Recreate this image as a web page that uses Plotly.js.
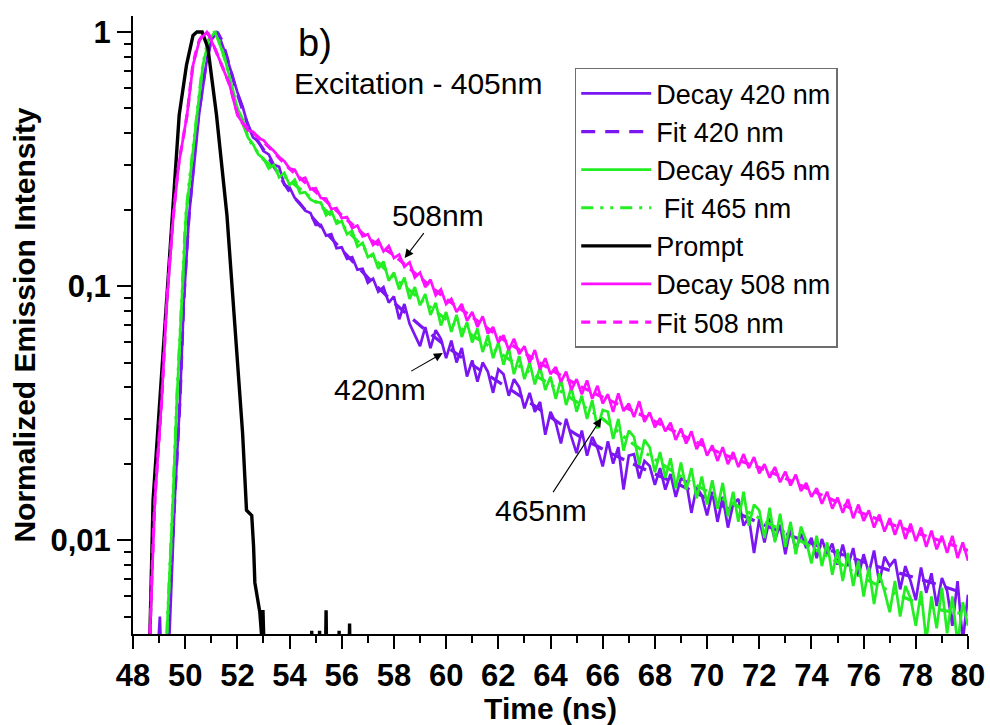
<!DOCTYPE html>
<html>
<head>
<meta charset="utf-8">
<script src="https://cdn.plot.ly/plotly-3.0.1.min.js"></script>
<style>
html,body{margin:0;padding:0;background:#fff;}
#chart{width:990px;height:725px;}
</style>
</head>
<body>
<div id="chart"></div>
<script>
// ---- data ----
const tGrid = [
52.2,52.4,52.6,52.8,53,
53.2,53.4,53.6,53.8,54,
54.2,54.4,54.6,54.8,55,
55.2,55.4,55.6,55.8,56,
56.2,56.4,56.6,56.8,57,
57.2,57.4,57.6,57.8,58,
58.2,58.4,58.6,58.8,59,
59.2,59.4,59.6,59.8,60,
60.2,60.4,60.6,60.8,61,
61.2,61.4,61.6,61.8,62,
62.2,62.4,62.6,62.8,63,
63.2,63.4,63.6,63.8,64,
64.2,64.4,64.6,64.8,65,
65.2,65.4,65.6,65.8,66,
66.2,66.4,66.6,66.8,67,
67.2,67.4,67.6,67.8,68,
68.2,68.4,68.6,68.8,69,
69.2,69.4,69.6,69.8,70,
70.2,70.4,70.6,70.8,71,
71.2,71.4,71.6,71.8,72,
72.2,72.4,72.6,72.8,73,
73.2,73.4,73.6,73.8,74,
74.2,74.4,74.6,74.8,75,
75.2,75.4,75.6,75.8,76,
76.2,76.4,76.6,76.8,77,
77.2,77.4,77.6,77.8,78,
78.2,78.4,78.6,78.8,79,
79.2,79.4,79.6,79.8,80];

const rise420T = [48.9,49.03,49.1,49.4,49.6,49.8,49.95,50.15,50.53,50.8,51.0,51.25,51.6,52.0];
const rise420V = [0.003,0.005,0.003,0.0043,0.0144,0.0356,0.088,0.19,0.471,0.741,0.93,1.0,0.79,0.58];
const decay420 = [
0.51,0.43,0.385,0.372,0.34,
0.33,0.30,0.295,0.25,0.245,
0.222,0.212,0.198,0.194,0.174,
0.174,0.158,0.16,0.141,0.142,
0.128,0.13,0.116,0.117,0.103,
0.107,0.095,0.099,0.086,0.091,
0.074,0.085,0.071,0.064,0.058,
0.069,0.057,0.067,0.062,0.052,
0.061,0.05,0.057,0.044,0.051,
0.042,0.05,0.046,0.038,0.047,
0.045,0.037,0.043,0.04,0.033,
0.038,0.032,0.035,0.026,0.032,
0.029,0.024,0.03,0.0255,0.022,
0.027,0.0215,0.0255,0.023,0.0195,
0.0245,0.02,0.0232,0.0158,0.0215,
0.0218,0.0175,0.0205,0.0196,0.0165,
0.0192,0.0158,0.0182,0.0148,0.0175,
0.017,0.0128,0.0162,0.015,0.0125,
0.0155,0.0118,0.0148,0.0112,0.0139,
0.0145,0.0114,0.0123,0.0089,0.0121,
0.0098,0.0122,0.01,0.0115,0.0088,
0.0112,0.0091,0.0106,0.0093,0.0102,
0.0085,0.0101,0.0088,0.0097,0.008,
0.0096,0.0079,0.0093,0.0072,0.0088,
0.0074,0.0091,0.0068,0.0086,0.0079,
0.0084,0.0064,0.0079,0.0069,0.0058,
0.0078,0.0062,0.0074,0.0055,0.0071,
0.0063,0.0046,0.0069,0.004,0.0061];

const rise465T = [49.2,49.3,49.53,49.68,49.87,50.03,50.45,50.68,50.9,51.14,51.5,51.75,52.0];
const rise465V = [0.003,0.0043,0.0144,0.0356,0.088,0.19,0.471,0.741,0.93,1.0,0.8,0.63,0.5];
const decay465 = [
0.455,0.385,0.362,0.33,0.318,
0.29,0.3,0.268,0.279,0.25,
0.262,0.232,0.234,0.219,0.214,
0.213,0.19,0.198,0.176,0.18,
0.16,0.165,0.143,0.148,0.13,
0.134,0.117,0.125,0.105,0.113,
0.097,0.108,0.089,0.099,0.084,
0.093,0.077,0.086,0.07,0.079,
0.066,0.077,0.063,0.072,0.06,
0.068,0.055,0.064,0.052,0.06,
0.049,0.057,0.045,0.053,0.043,
0.05,0.041,0.048,0.039,0.044,
0.036,0.043,0.034,0.04,0.032,
0.037,0.030,0.0355,0.0275,0.0325,
0.032,0.025,0.03,0.0225,0.027,
0.0255,0.0198,0.0248,0.0232,0.0185,
0.0222,0.0176,0.021,0.016,0.0202,
0.0158,0.0192,0.0146,0.0178,0.0138,
0.0172,0.0133,0.0168,0.0124,0.0155,
0.0118,0.0155,0.0114,0.0138,0.0131,
0.0102,0.0134,0.0098,0.0127,0.0094,
0.0118,0.0088,0.0113,0.0099,0.0081,
0.0104,0.0079,0.0098,0.0073,0.0092,
0.0069,0.0089,0.0066,0.0083,0.006,
0.0078,0.0056,0.0074,0.0063,0.0052,
0.0069,0.005,0.0066,0.0059,0.0046,
0.0063,0.004,0.006,0.0045,0.0065,
0.0043,0.006,0.0039,0.0057,0.0046];

const rise508T = [48.55,48.65,48.84,49.1,49.3,49.55,49.75,50.07,50.3,50.55,50.83,51.1,51.4,51.7,52.0];
const rise508V = [0.003,0.0043,0.0144,0.0356,0.088,0.19,0.30,0.471,0.741,0.93,1.0,0.88,0.74,0.62,0.47];
const decay508 = [
0.44,0.41,0.405,0.382,0.375,
0.355,0.34,0.322,0.31,0.29,
0.287,0.262,0.267,0.24,0.243,
0.222,0.221,0.201,0.203,0.185,
0.187,0.169,0.173,0.157,0.16,
0.145,0.152,0.137,0.144,0.129,
0.133,0.119,0.124,0.108,0.113,
0.099,0.106,0.092,0.097,0.085,
0.089,0.079,0.085,0.073,0.079,
0.069,0.076,0.065,0.069,0.06,
0.064,0.056,0.062,0.054,0.058,
0.05,0.056,0.047,0.052,0.045,
0.048,0.042,0.046,0.039,0.043,
0.0375,0.0425,0.036,0.0405,0.0345,
0.0375,0.032,0.0378,0.0322,0.0345,
0.0305,0.0352,0.0292,0.0318,0.0278,
0.0302,0.0268,0.029,0.0248,0.0275,
0.024,0.0268,0.0228,0.0251,0.0215,
0.0236,0.0205,0.0232,0.0199,0.0222,
0.0194,0.0218,0.0192,0.0212,0.0183,
0.0199,0.0176,0.0194,0.0169,0.0186,
0.0164,0.0181,0.0156,0.0168,0.0148,
0.016,0.0139,0.0155,0.0133,0.0147,
0.0128,0.0145,0.0122,0.0138,0.0119,
0.0131,0.0112,0.0126,0.0108,0.0122,
0.0105,0.012,0.0101,0.0116,0.0099,
0.0112,0.0094,0.0109,0.0092,0.0104,
0.0089,0.0104,0.0085,0.0098,0.0083];

const promptT = [48.4,48.65,48.77,49.03,49.3,49.53,49.65,49.77,50.05,50.3,50.45,50.65,50.87,51.2,51.6,51.83,52.1,52.2,52.35,52.45,52.55,52.62,52.67,52.86,52.93,52.98,53.03,53.1,54.8,54.85,54.9,55.1,55.15,55.2,55.35,55.4,55.45,55.85,55.9,55.95,56.25,56.3,56.35,56.6];
const promptV = [0.002,0.0043,0.0144,0.0356,0.088,0.19,0.30,0.471,0.741,0.97,1.0,1.0,0.865,0.471,0.19,0.088,0.0356,0.0264,0.0131,0.0128,0.0125,0.0095,0.0068,0.0052,0.0042,0.0053,0.004,0.002,0.002,0.0044,0.002,0.002,0.0044,0.002,0.002,0.0053,0.002,0.002,0.0044,0.002,0.002,0.0047,0.002,0.002];

const fitTailT = [54,55,56,57,58,59,60,61,62,63,64,65,66,67,68,69,70,71,72,73,74,75,76,77,78,79,80];
const fit420HeadT = [49.35,49.6,49.8,49.95,50.15,50.5,50.8,51.0,51.2,51.4,51.6,52.0,52.5,53];
const fit420V = [0.0043,0.0144,0.0356,0.088,0.19,0.46,0.74,0.92,1.0,0.93,0.80,0.57,0.41,0.345,
0.235,0.18,0.139,0.108,0.086,0.070,0.058,0.049,0.042,0.036,0.0305,0.026,0.0228,0.0203,0.0182,0.0164,0.0146,0.013,0.0117,0.0106,0.0097,0.0089,0.0082,0.0076,0.0071,0.0066,0.0061];
const fit465HeadT = [49.3,49.53,49.68,49.87,50.03,50.45,50.68,50.9,51.14,51.4,51.7,52.0,52.5,53];
const fit465V = [0.0043,0.0144,0.0356,0.088,0.19,0.471,0.741,0.93,1.0,0.86,0.66,0.50,0.37,0.315,
0.26,0.215,0.174,0.136,0.108,0.089,0.074,0.064,0.055,0.047,0.041,0.035,0.030,0.0246,0.0208,0.0178,0.0156,0.0139,0.0122,0.0107,0.0094,0.0082,0.0071,0.0063,0.0057,0.0053,0.0051];
const fit508HeadT = [48.65,48.84,49.1,49.3,49.55,49.75,50.07,50.3,50.55,50.83,51.1,51.4,51.7,52.1,52.5,53];
const fit508V = [0.0043,0.0144,0.0356,0.088,0.19,0.30,0.471,0.741,0.93,1.0,0.88,0.74,0.62,0.45,0.41,0.37,
0.29,0.235,0.19,0.155,0.132,0.108,0.089,0.0755,0.0635,0.0545,0.047,0.041,0.0365,0.0328,0.0293,0.026,0.0232,0.021,0.0193,0.0175,0.0157,0.0141,0.0127,0.0116,0.0107,0.0099,0.0091];

const seriesNames = ['Decay 420 nm','Fit 420 nm','Decay 465 nm','\u00a0Fit 465 nm','Prompt','Decay 508 nm','Fit 508 nm'];
const yTickVals = [0.01, 0.1, 1];
const yTickText = ['0,01', '0,1', '1'];
const yMinorVals = [0.005,0.006,0.007,0.008,0.009,0.02,0.03,0.04,0.05,0.06,0.07,0.08,0.09,0.2,0.3,0.4,0.5,0.6,0.7,0.8,0.9];
const xTickVals = [48,50,52,54,56,58,60,62,64,66,68,70,72,74,76,78,80];

// ---- styles ----
const PURPLE = '#7b16f2', GREEN = '#22ee22', MAGENTA = '#ff10ff', BLACK = '#000000';
const FONT = 'Arial, "Liberation Sans", Helvetica, sans-serif';

const traces = [
  {x: rise420T.concat(tGrid), y: rise420V.concat(decay420), name: seriesNames[0], mode: 'lines',
   line: {color: PURPLE, width: 2.7}},
  {x: fit420HeadT.concat(fitTailT), y: fit420V, name: seriesNames[1], mode: 'lines',
   line: {color: PURPLE, width: 3.2, dash: '14px,10px', shape: 'spline', smoothing: 0.6}},
  {x: rise465T.concat(tGrid), y: rise465V.concat(decay465), name: seriesNames[2], mode: 'lines',
   line: {color: GREEN, width: 2.7}},
  {x: fit465HeadT.concat(fitTailT), y: fit465V, name: seriesNames[3], mode: 'lines',
   line: {color: GREEN, width: 3.2, dash: '12px,7px,3px,7px,3px,7px', shape: 'spline', smoothing: 0.6}},
  {x: promptT, y: promptV, name: seriesNames[4], mode: 'lines',
   line: {color: BLACK, width: 3.4}},
  {x: rise508T.concat(tGrid), y: rise508V.concat(decay508), name: seriesNames[5], mode: 'lines',
   line: {color: MAGENTA, width: 2.7}},
  {x: fit508HeadT.concat(fitTailT), y: fit508V, name: seriesNames[6], mode: 'lines',
   line: {color: MAGENTA, width: 3.2, dash: '9px,7px', shape: 'spline', smoothing: 0.6}}
];

const layout = {
  width: 990, height: 725,
  margin: {l: 133, r: 22, t: 16, b: 91, pad: 0},
  paper_bgcolor: '#ffffff', plot_bgcolor: '#ffffff',
  font: {family: FONT, color: '#000'},
  showlegend: true,
  legend: {
    x: 0.529, y: 0.916, xanchor: 'left', yanchor: 'top',
    bgcolor: '#ffffff', bordercolor: '#6e6e6e', borderwidth: 1.5,
    font: {family: FONT, size: 27, color: '#000'},
    itemwidth: 70, tracegroupgap: 0, traceorder: 'normal'
  },
  xaxis: {
    type: 'linear', range: [48, 80], autorange: false,
    showgrid: false, zeroline: false,
    showline: true, linecolor: '#000', linewidth: 2, mirror: false,
    tickmode: 'array', tickvals: xTickVals,
    ticks: 'outside', ticklen: 13, tickwidth: 2, tickcolor: '#000',
    tickfont: {family: FONT, size: 31, color: '#000', weight: 'bold'},
    minor: {dtick: 1, ticks: 'outside', ticklen: 7, tickwidth: 2, tickcolor: '#000', showgrid: false},
    title: {text: '<b>Time (ns)</b>', font: {family: FONT, size: 30, color: '#000'}, standoff: 0},
    automargin: false
  },
  yaxis: {
    type: 'log', range: [Math.log10(0.00427), Math.log10(1.156)], autorange: false,
    showgrid: false, zeroline: false,
    showline: true, linecolor: '#000', linewidth: 2, mirror: false,
    tickmode: 'array', tickvals: yTickVals, ticktext: yTickText,
    ticks: 'outside', ticklen: 14, tickwidth: 2, tickcolor: '#000',
    tickfont: {family: FONT, size: 31, color: '#000', weight: 'bold'},
    minor: {tickmode: 'array', tickvals: yMinorVals, ticks: 'outside', ticklen: 7, tickwidth: 2, tickcolor: '#000', showgrid: false},
    title: {text: '<b>Normalized Emission Intensity</b>', font: {family: FONT, size: 30, color: '#000'}, standoff: 6},
    automargin: false
  },
  annotations: [
    {xref: 'paper', yref: 'paper', x: 0.218, y: 0.956, text: 'b)', showarrow: false,
     font: {family: FONT, size: 38, color: '#000'}, xanchor: 'center', yanchor: 'middle'},
    {xref: 'paper', yref: 'paper', x: 0.341, y: 0.890, text: 'Excitation - 405nm', showarrow: false,
     font: {family: FONT, size: 30, color: '#000'}, xanchor: 'center', yanchor: 'middle'},
    {xref: 'x', yref: 'y', x: 58.41, y: -0.890, text: '508nm', showarrow: true,
     ax: 33, ay: -43, arrowhead: 2, arrowsize: 1.6, arrowwidth: 1.1, arrowcolor: '#000',
     font: {family: FONT, size: 30, color: '#000'}},
    {xref: 'x', yref: 'y', x: 59.87, y: -1.264, text: '420nm', showarrow: true,
     ax: -63, ay: 36, arrowhead: 2, arrowsize: 1.6, arrowwidth: 1.1, arrowcolor: '#000',
     font: {family: FONT, size: 30, color: '#000'}},
    {xref: 'x', yref: 'y', x: 65.95, y: -1.520, text: '465nm', showarrow: true,
     ax: -60, ay: 92, arrowhead: 2, arrowsize: 1.6, arrowwidth: 1.1, arrowcolor: '#000',
     font: {family: FONT, size: 30, color: '#000'}}
  ]
};

Plotly.newPlot('chart', traces, layout, {staticPlot: true, displayModeBar: false});
</script>
</body>
</html>
